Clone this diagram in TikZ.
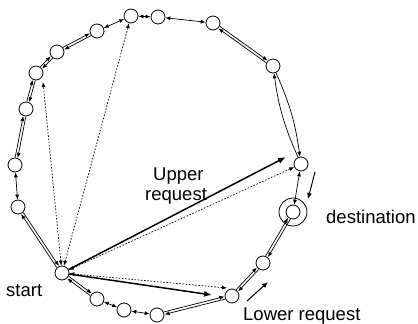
\documentclass[tikz,border=0pt]{standalone}
\usepackage{fontspec}
\setmainfont{Liberation Sans}
\usetikzlibrary{arrows.meta,calc}
\tikzset{
  pnode/.style={circle,draw,minimum size=14pt,inner sep=0pt,line width=0.8pt},
  ring/.style={circle,draw,minimum size=28pt,inner sep=0pt,line width=0.8pt},
  link/.style={line width=0.7pt},
  tipa/.style={-{Latex[length=5pt,width=4pt]}},
  tipb/.style={{Latex[length=5pt,width=4pt]}-{Latex[length=5pt,width=4pt]}},
  bigarrow/.style={line width=1.5pt,-{Latex[length=8pt,width=6pt]}},
  dots/.style={line width=0.7pt,dash pattern=on 1.6pt off 1.6pt},
  lbl/.style={anchor=base west,inner sep=0pt,font=\fontsize{18.5}{22}\selectfont}
}
\newcommand\dblink[2]{%
  \draw[link,tipa] ($(#1)!7.5pt!(#2)!1.3pt!90:(#2)$) -- ($(#2)!7.5pt!(#1)!1.3pt!-90:(#1)$);
  \draw[link,tipa] ($(#2)!7.5pt!(#1)!1.3pt!90:(#1)$) -- ($(#1)!7.5pt!(#2)!1.3pt!-90:(#2)$);}
\begin{document}
\begin{tikzpicture}[x=1pt,y=-1pt]
\useasboundingbox (0,0) rectangle (418,324);
% nodes
\node[pnode] (n1) at (62,273) {};
\node[pnode] (n2) at (18,207) {};
\node[pnode] (n3) at (15,165) {};
\node[pnode] (n4) at (26,109) {};
\node[pnode] (n5) at (36,73) {};
\node[pnode] (n6) at (57,52) {};
\node[pnode] (n7) at (97,31) {};
\node[pnode] (n8) at (131,16) {};
\node[pnode] (n9) at (158,17) {};
\node[pnode] (n10) at (213,23) {};
\node[pnode] (n11) at (273,66) {};
\node[pnode] (n12) at (301,164) {};
\node[pnode] (n13) at (293,212) {};
\node[ring] (d13) at (293,212) {};
\node[pnode] (n14) at (263,263) {};
\node[pnode] (n15) at (232,296) {};
\node[pnode] (n16) at (157,315) {};
\node[pnode] (n17) at (124,310) {};
\node[pnode] (n18) at (97,299) {};
% free ends
\coordinate (up) at (286,157);
\coordinate (lo) at (212,295);
\coordinate (d5) at (43,82);
\coordinate (d15) at (227,288);
\coordinate (a1s) at (315,172);
\coordinate (a1e) at (308,199);
\coordinate (a2s) at (247,301);
\coordinate (a2e) at (268,282);
% ring links
\dblink{n1}{n2}
\draw[link,tipb] (n2) -- (n3);
\dblink{n3}{n4}
\dblink{n4}{n5}
\dblink{n5}{n6}
\dblink{n6}{n7}
\draw[link,tipb] (n7) -- (n8);
\draw[link,tipb] (n8) -- (n9);
\draw[link,tipb] (n9) -- (n10);
\dblink{n10}{n11}
\draw[link,tipa] (n11) to[bend left=8] (n12);
\draw[link,tipa] (n12) to[bend left=8] (n11);
\draw[link,tipb] (n12) -- (n13);
\dblink{n13}{n14}
\dblink{n14}{n15}
\dblink{n15}{n16}
\draw[link,tipb] (n16) -- (n17);
\draw[link,tipb] (n17) -- (n18);
\dblink{n18}{n1}
% requests from start
\draw[dots,tipb] (n1) -- (d5);
\draw[dots,tipb] (n1) -- (n8);
\draw[dots,tipb] (n1) -- (n12);
\draw[dots,tipb] (n1) -- (d15);
\draw[bigarrow] (n1) -- (up);
\draw[bigarrow] (n1) -- (lo);
% indicator arrows
\draw[line width=1pt,-{Latex[length=6pt,width=5pt]}] (a1s) -- (a1e);
\draw[line width=1pt,-{Latex[length=6pt,width=5pt]}] (a2s) -- (a2e);
% labels
\node[lbl] (t1) at (153,180) {Upper};
\node[lbl] (t2) at (145,200) {request};
\node[lbl] (t3) at (326,223) {destination};
\node[lbl] (t4) at (6,296) {start};
\node[lbl] (t5) at (243,320) {Lower request};
\end{tikzpicture}
\end{document}
